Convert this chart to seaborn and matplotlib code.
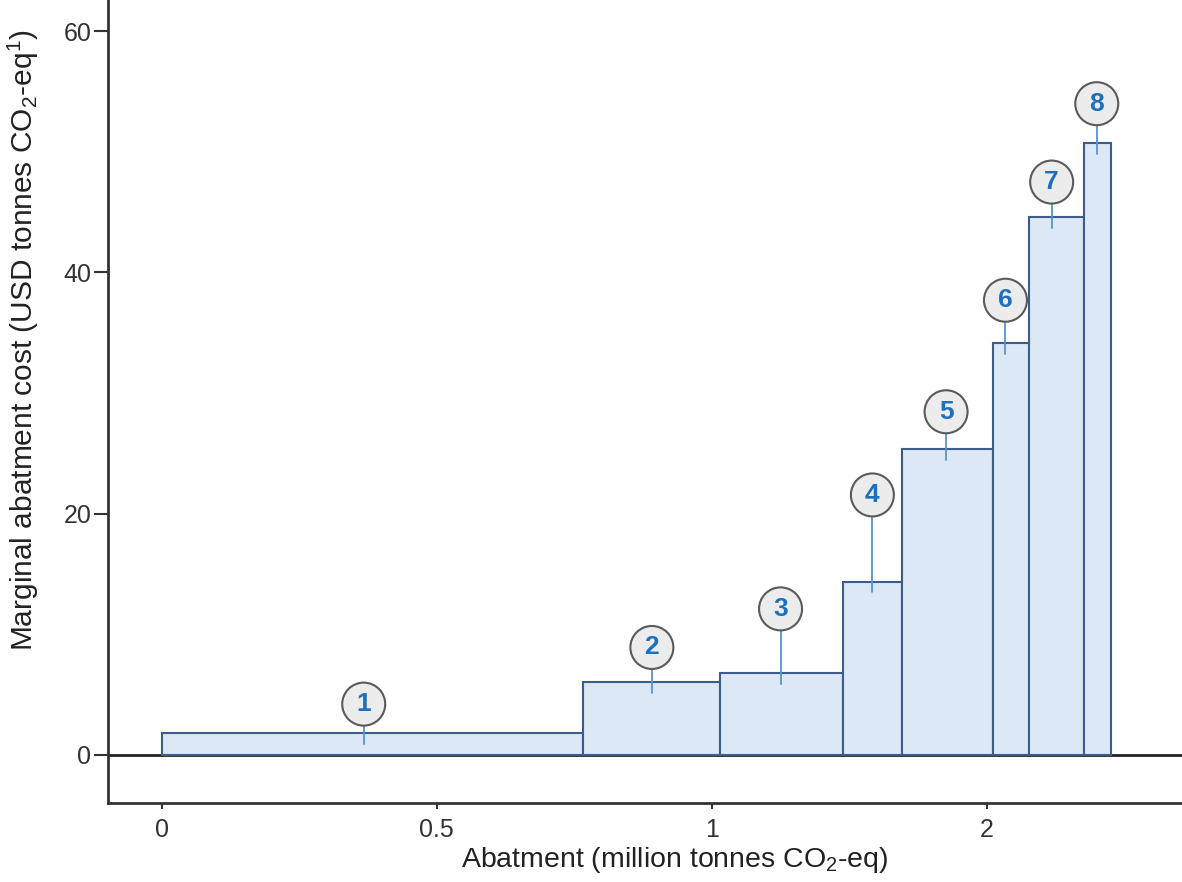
import numpy as np
import pandas as pd
import matplotlib
matplotlib.use("Agg")
import matplotlib.pyplot as plt
import seaborn as sns

# ---- data ----
measures = ["1", "2", "3", "4", "5", "6", "7", "8"]
# cumulative abatement edges, in axis position units (axis labels are 0, 0.5, 1, 2)
edges = [0.0, 0.7655, 1.014, 1.2387, 1.3455, 1.5109, 1.5769, 1.6769, 1.7267]
costs = [1.8, 6.05, 6.77, 14.36, 25.33, 34.17, 44.6, 50.74]
label_x = [0.367, 0.891, 1.125, 1.292, 1.426, 1.534, 1.618, 1.70]
label_y = [4.2, 8.9, 12.1, 21.55, 28.45, 37.7, 47.5, 54.0]
xtick_pos = [0.0, 0.5, 1.0, 1.5]
xtick_labels = ["0", "0.5", "1", "2"]
ytick_vals = [0, 20, 40, 60]

sns.set_theme(style="ticks")
plt.rcParams["font.family"] = ["Liberation Sans", "DejaVu Sans"]
plt.rcParams["mathtext.fontset"] = "custom"
plt.rcParams["mathtext.rm"] = "Liberation Sans"
plt.rcParams["mathtext.it"] = "Liberation Sans:italic"
plt.rcParams["mathtext.bf"] = "Liberation Sans:bold"

W, H = 1182, 882
fig = plt.figure(figsize=(W / 100, H / 100), dpi=100)
ax = fig.add_axes([108 / W, 1 - 803 / H, 1 - 108 / W, 803 / H])

centers = [(a + b) / 2 for a, b in zip(edges[:-1], edges[1:])]
df = pd.DataFrame({"measure": measures, "center": centers, "cost": costs})

ax.axhline(0, color="#222222", lw=2, zorder=1)
sns.histplot(data=df, x="center", weights="cost", bins=edges, stat="count",
             color="#dce8f6", alpha=1, edgecolor="#3d5c88", linewidth=1.5,
             ax=ax, zorder=2)

for lx, h, ly, m in zip(label_x, costs, label_y, measures):
    ax.plot([lx, lx], [h - 0.9, ly], color="#5b92cf", lw=1.3, zorder=4)
    ax.text(lx, ly, m, ha="center", va="center", fontsize=19, fontweight="bold",
            color="#1f6fbf", zorder=6,
            bbox=dict(boxstyle="circle,pad=0.36", fc="#ececec", ec="#5a5a5a", lw=1.5))

ax.set_xlim(-0.098, 1.855)
ax.set_ylim(-4, 62.6)
ax.set_xticks(xtick_pos)
ax.set_xticklabels(xtick_labels)
ax.set_yticks(ytick_vals)
ax.tick_params(axis="y", direction="out", length=10, width=1.5, color="#333333",
               pad=2, labelsize=18, labelcolor="#333333")
ax.tick_params(axis="x", direction="out", length=4, width=1.5, color="#333333",
               pad=7, labelsize=18, labelcolor="#333333")
for s in ["left", "bottom"]:
    ax.spines[s].set_linewidth(2)
    ax.spines[s].set_color("#333333")
sns.despine(ax=ax)

ax.set_xlabel(r"Abatment (million tonnes CO$_2$-eq)", fontsize=20.5, color="#222222")
ax.set_ylabel(r"Marginal abatment cost (USD tonnes CO$_2$-eq$^1$)", fontsize=21.5, color="#222222")
ax.xaxis.set_label_coords(0.528, -0.052)
ax.yaxis.set_label_coords(-0.062, 0.577)

fig.savefig("out.png", dpi=100)
